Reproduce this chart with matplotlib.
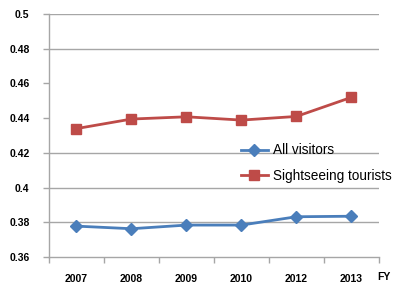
import matplotlib
matplotlib.use("Agg")
import matplotlib.pyplot as plt

years = ["2007", "2008", "2009", "2010", "2012", "2013"]
all_visitors = [0.3778, 0.3763, 0.3784, 0.3784, 0.3832, 0.3835]
sightseeing = [0.434, 0.4395, 0.4408, 0.4389, 0.441, 0.452]
yticks = [0.36, 0.38, 0.40, 0.42, 0.44, 0.46, 0.48, 0.50]
ytick_labels = ["0.36", "0.38", "0.4", "0.42", "0.44", "0.46", "0.48", "0.5"]
grid_values = [0.38, 0.40, 0.42, 0.48, 0.50]

plt.rcParams['font.family'] = ['Liberation Sans', 'DejaVu Sans']

fig = plt.figure(figsize=(3.93, 2.87), dpi=100)
ax = fig.add_axes([0.1247, 0.1045, 0.964 - 0.1247, 0.951 - 0.1045])

x = list(range(len(years)))
blue = "#4a7ebb"
red = "#be4b48"
grid_c = "#a6a6a6"

for g in grid_values:
    ax.axhline(g, color=grid_c, lw=1.0, zorder=1)

ax.plot(x, all_visitors, color=blue, lw=2, marker="D", markersize=6,
        label="All visitors", zorder=3)
ax.plot(x, sightseeing, color=red, lw=2, marker="s", markersize=7.5,
        label="Sightseeing tourists", zorder=3)

ax.set_xlim(-0.5, len(years) - 0.5)
ax.set_ylim(0.36, 0.50)
ax.set_yticks(yticks)
ax.set_yticklabels(ytick_labels, fontsize=7.5, fontweight="bold")
ax.set_xticks(x)
ax.set_xticklabels(years, fontsize=7.5, fontweight="bold")
ax.set_xticks([i - 0.5 for i in range(len(years) + 1)], minor=True)
ax.tick_params(axis="x", which="major", length=0, pad=12)
ax.tick_params(axis="x", which="minor", length=4, color=grid_c, width=1)
ax.tick_params(axis="y", length=4, color=grid_c, width=1, pad=10)

for s in ["top", "right"]:
    ax.spines[s].set_visible(False)
for s in ["left", "bottom"]:
    ax.spines[s].set_color(grid_c)
    ax.spines[s].set_linewidth(1.0)

fig.text(384 / 393, 1 - 277 / 287, "FY", fontsize=7.5,
         fontweight="bold", ha="center", va="center")

leg = ax.legend(loc="upper left", bbox_to_anchor=(0.565, 0.49), frameon=False,
                fontsize=9.8, handlelength=2.0, handletextpad=0.4,
                labelspacing=0.85, borderaxespad=0)

fig.savefig("out.png", dpi=100)
